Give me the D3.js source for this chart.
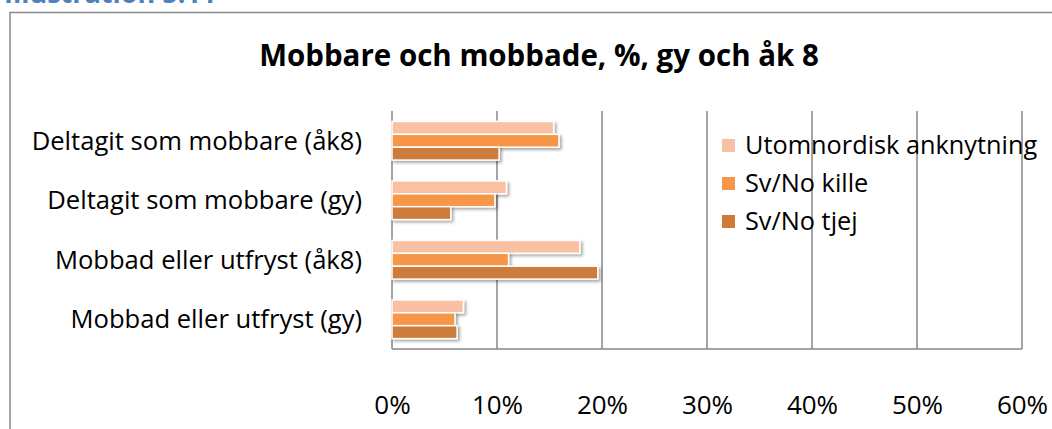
<!DOCTYPE html>
<html lang="sv">
  <head>
    <meta charset="utf-8">
    <title>Mobbare och mobbade</title>
    <style>
      body { margin: 0; background: #fff; }
      svg { display: block; font-family: "Open Sans", sans-serif; }
    </style>
  </head>
  <body>
    <svg></svg>
    <script src="https://d3js.org/d3.v7.min.js"></script>
    <script>
      // storlek
      var svgWidth = 1052;
      var svgHeight = 429;

      // data (ordning som i bilden, uppifrån och ner)
      var categories = [
        'Deltagit som mobbare (åk8)',
        'Deltagit som mobbare (gy)',
        'Mobbad eller utfryst (åk8)',
        'Mobbad eller utfryst (gy)'
      ];
      var seriesNames = ['Utomnordisk anknytning', 'Sv/No kille', 'Sv/No tjej'];
      var utomnordisk = [0.154, 0.109, 0.179, 0.068];
      var svNoKille = [0.159, 0.098, 0.111, 0.060];
      var svNoTjej = [0.102, 0.056, 0.196, 0.062];
      var tickValues = [0, 0.1, 0.2, 0.3, 0.4, 0.5, 0.6];
      var colors = ['#f9c0a4', '#f79646', '#cd7b3a'];

      var allSeries = [utomnordisk, svNoKille, svNoTjej];

      var svg = d3.select('svg')
          .attr('width', svgWidth)
          .attr('height', svgHeight);

      // skugga under staplarna
      var defs = svg.append('defs');
      var f = defs.append('filter').attr('id', 'shadow')
          .attr('x', '-5%').attr('y', '-30%').attr('width', '115%').attr('height', '180%');
      f.append('feDropShadow')
          .attr('dx', 2).attr('dy', 2).attr('stdDeviation', 1.6)
          .attr('flood-color', '#000').attr('flood-opacity', 0.35);

      // rubrik ovanför (avklippt i originalet)
      svg.append('text')
          .attr('x', 4).attr('y', 3)
          .attr('font-size', 27).attr('font-weight', 'bold')
          .attr('fill', '#4f81bd')
          .text('Illustration 5.11');

      // ram
      svg.append('path')
          .attr('d', 'M10,' + (svgHeight + 5) + 'V12.5H' + (svgWidth + 5))
          .attr('fill', 'none').attr('stroke', '#888').attr('stroke-width', 1.5);

      // titel
      svg.append('text')
          .attr('x', 539).attr('y', 66)
          .attr('text-anchor', 'middle')
          .attr('font-size', 29.5).attr('font-weight', 'bold')
          .attr('fill', '#000')
          .text('Mobbare och mobbade, %, gy och åk 8');

      var x = d3.scaleLinear().domain([0, 0.6]).range([392, 1022]);
      var y0 = d3.scaleBand().domain(categories).range([111, 349])
          .paddingInner(0.35).paddingOuter(0.175);
      var y1 = d3.scaleBand().domain(seriesNames).range([0, y0.bandwidth()]);

      // stödlinjer
      svg.append('g').selectAll('line')
          .data(tickValues)
          .enter().append('line')
          .attr('x1', function(d) { return x(d); })
          .attr('x2', function(d) { return x(d); })
          .attr('y1', 111).attr('y2', 349)
          .attr('stroke', '#868686').attr('stroke-width', 1.5);

      svg.append('line')
          .attr('x1', x(0)).attr('x2', x(0.6))
          .attr('y1', 349).attr('y2', 349)
          .attr('stroke', '#868686').attr('stroke-width', 1.5);

      // staplar
      var groups = svg.append('g').selectAll('g')
          .data(categories)
          .enter().append('g')
          .attr('transform', function(d) { return 'translate(0,' + y0(d) + ')'; });

      groups.selectAll('rect')
          .data(function(d, i) {
            return seriesNames.map(function(s, j) {
              return { name: s, value: allSeries[j][i], color: colors[j] };
            });
          })
          .enter().append('rect')
          .attr('x', x(0))
          .attr('y', function(d) { return y1(d.name); })
          .attr('width', function(d) { return x(d.value) - x(0); })
          .attr('height', y1.bandwidth())
          .attr('fill', function(d) { return d.color; })
          .attr('stroke', '#fff').attr('stroke-width', 1.5)
          .attr('filter', 'url(#shadow)');

      // kategorietiketter
      svg.append('g').selectAll('text')
          .data(categories)
          .enter().append('text')
          .attr('x', 362)
          .attr('y', function(d) { return y0(d) + y0.bandwidth() / 2; })
          .attr('dy', '0.35em')
          .attr('text-anchor', 'end')
          .attr('font-size', 25.6)
          .attr('fill', '#000')
          .text(function(d) { return d; });

      // x-axel
      var xAxis = d3.axisBottom(x)
          .tickValues(tickValues)
          .tickFormat(d3.format('.0%'))
          .tickSize(0)
          .tickPadding(0);

      var ax = svg.append('g')
          .attr('transform', 'translate(0,396)')
          .call(xAxis);
      ax.select('.domain').remove();
      ax.selectAll('text')
          .attr('font-size', 26)
          .attr('font-family', '"Open Sans", sans-serif')
          .attr('fill', '#000');

      // förklaring
      var legend = svg.append('g').selectAll('g')
          .data(seriesNames)
          .enter().append('g')
          .attr('transform', function(d, i) { return 'translate(722,' + (145.5 + i * 38) + ')'; });

      legend.append('rect')
          .attr('x', 0).attr('y', -6.5)
          .attr('width', 13).attr('height', 13)
          .attr('fill', function(d, i) { return colors[i]; });

      legend.append('text')
          .attr('x', 23).attr('dy', '0.35em')
          .attr('font-size', 25.3)
          .attr('fill', '#000')
          .text(function(d) { return d; });
    </script>
  </body>
</html>
